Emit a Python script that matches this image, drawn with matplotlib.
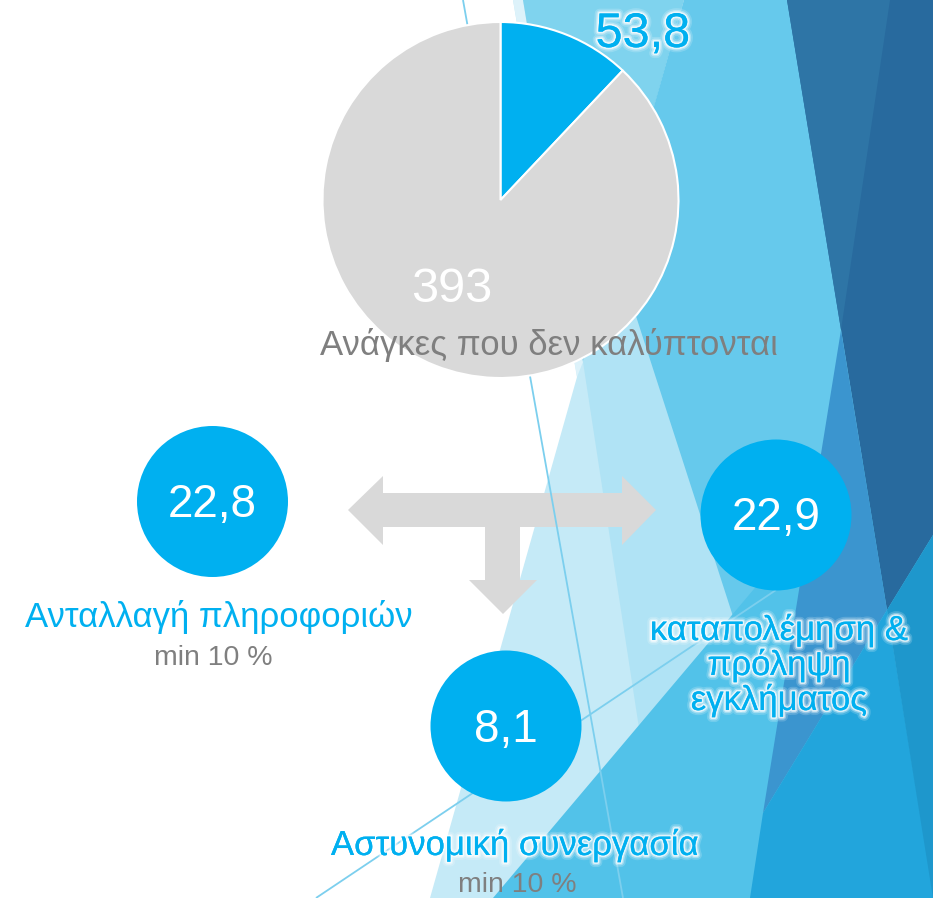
import matplotlib
matplotlib.use('Agg')
import matplotlib.pyplot as plt
from matplotlib.patches import Polygon, Circle
import matplotlib.patheffects as pe

# ---------------- data ----------------
pie_values = [53.8, 393]
pie_caption = 'Ανάγκες που δεν καλύπτονται'
circle_values = [22.8, 22.9, 8.1]
circle_labels = ['Ανταλλαγή πληροφοριών',
                 'καταπολέμηση &\nπρόληψη\nεγκλήματος',
                 'Αστυνομική συνεργασία']
circle_notes = ['min 10 %', '', 'min 10 %']

# ---------------- style / layout ----------------
W, H = 933, 898
BLUE = '#00B0F0'
GRAY_FILL = '#D9D9D9'
GRAY_TEXT = '#7F7F7F'
FONT = ['Liberation Sans', 'DejaVu Sans']
pie_colors = [BLUE, GRAY_FILL]
pie_center = (500.5, 200)
pie_radius = 178
pie_label_pos = [(643, 47), (452, 302)]          # baselines (image coords)
pie_label_colors = [BLUE, 'white']
circle_centers = [(212.5, 501.5), (776, 515), (506, 726)]
circle_radius = 75.5
num_baselines = [517, 530, 742]
label_pos = [(218.5, 627), (779, 640), (515, 855)]
note_pos = [(213, 665), None, (517, 892)]
label_glow = [False, True, True]
line_step = 35


def Y(y):
    return H - y


def fmt(v):
    return f'{v:g}'.replace('.', ',')


fig = plt.figure(figsize=(W / 100, H / 100), dpi=100)
ax = fig.add_axes([0, 0, 1, 1])

# ---------------- decorative background (image coords) ----------------
bg_shapes = [
    ('#C5EAF7', [(513, 0), (933, 0), (933, 898), (430, 898), (577, 377)]),
    ('#DDF2FA', [(513, 0), (523, 0), (583, 362), (577, 377)]),
    ('#7FD3EE', [(523, 0), (684, 0), (583, 362)]),
    ('#B0E3F5', [(583, 362), (684, 0), (933, 0), (933, 898), (665, 898)]),
    ('#66C9EC', [(684, 0), (933, 0), (933, 898), (824, 898), (614, 248)]),
    ('#52C2E9', [(493, 898), (933, 377), (933, 898)]),
    ('#286A9E', [(787, 0), (933, 0), (933, 535), (887, 610)]),
    ('#2E75A6', [(787, 0), (890, 0), (841, 330)]),
    ('#3B95CF', [(841, 330), (887, 610), (763, 813)]),
    ('#22A5DC', [(763, 813), (887, 610), (934, 898), (750, 898)]),
    ('#1E97CC', [(887, 610), (933, 535), (933, 898)]),
]
for col, pts in bg_shapes:
    ax.add_patch(Polygon([(x, Y(y)) for x, y in pts], closed=True,
                         facecolor=col, edgecolor='none', zorder=1))

for (x0, y0), (x1, y1) in [((463, 0), (623, 898)), ((316, 898), (776, 590))]:
    ax.plot([x0, x1], [Y(y0), Y(y1)], color='#7CCFEE', lw=1.3, zorder=3.5,
            solid_capstyle='butt')

# ---------------- T-shaped arrow ----------------
arrow_pts = [(348, 510), (383, 476), (383, 493), (622, 493), (622, 476),
             (656, 510), (622, 545), (622, 527), (520, 527), (520, 580),
             (537, 580), (503, 614), (469, 580), (485, 580), (485, 527),
             (383, 527), (383, 545)]
ax.add_patch(Polygon([(x, Y(y)) for x, y in arrow_pts], closed=True,
                     facecolor=GRAY_FILL, edgecolor='none', zorder=3))

# ---------------- pie ----------------
wedges, _ = ax.pie(pie_values, colors=pie_colors, startangle=90,
                   counterclock=False,
                   center=(pie_center[0], Y(pie_center[1])),
                   radius=pie_radius,
                   wedgeprops=dict(edgecolor='white', linewidth=1.5))
for w in wedges:
    w.set_zorder(4)

glow = [pe.withStroke(linewidth=7, foreground='white', alpha=0.18),
        pe.withStroke(linewidth=4.5, foreground='white', alpha=0.35),
        pe.withStroke(linewidth=2.5, foreground='white', alpha=0.7),
        pe.Normal()]

for v, (x, y), c, g in zip(pie_values, pie_label_pos, pie_label_colors, [True, False]):
    ax.text(x, Y(y), fmt(v), color=c, fontsize=35, family=FONT,
            ha='center', va='baseline', zorder=6,
            path_effects=glow if g else None)

ax.text(549, Y(355), pie_caption, color=GRAY_TEXT, fontsize=25, family=FONT,
        ha='center', va='baseline', zorder=6)

# ---------------- circles ----------------
for v, (cx, cy), nb, lab, (lx, ly), note, npos, g in zip(
        circle_values, circle_centers, num_baselines, circle_labels,
        label_pos, circle_notes, note_pos, label_glow):
    ax.add_patch(Circle((cx, Y(cy)), circle_radius, facecolor=BLUE,
                        edgecolor='none', zorder=5))
    ax.text(cx, Y(nb), fmt(v), color='white', fontsize=33, family=FONT,
            ha='center', va='baseline', zorder=6)
    for i, line in enumerate(lab.split('\n')):
        ax.text(lx, Y(ly + i * line_step), line, color=BLUE, fontsize=25,
                family=FONT, ha='center', va='baseline', zorder=6,
                path_effects=glow if g else None)
    if note:
        ax.text(npos[0], Y(npos[1]), note, color=GRAY_TEXT, fontsize=20.5,
                family=FONT, ha='center', va='baseline', zorder=6)

ax.set_xlim(0, W)
ax.set_ylim(0, H)
ax.set_aspect('auto')
ax.axis('off')

fig.savefig('out.png', dpi=100)
